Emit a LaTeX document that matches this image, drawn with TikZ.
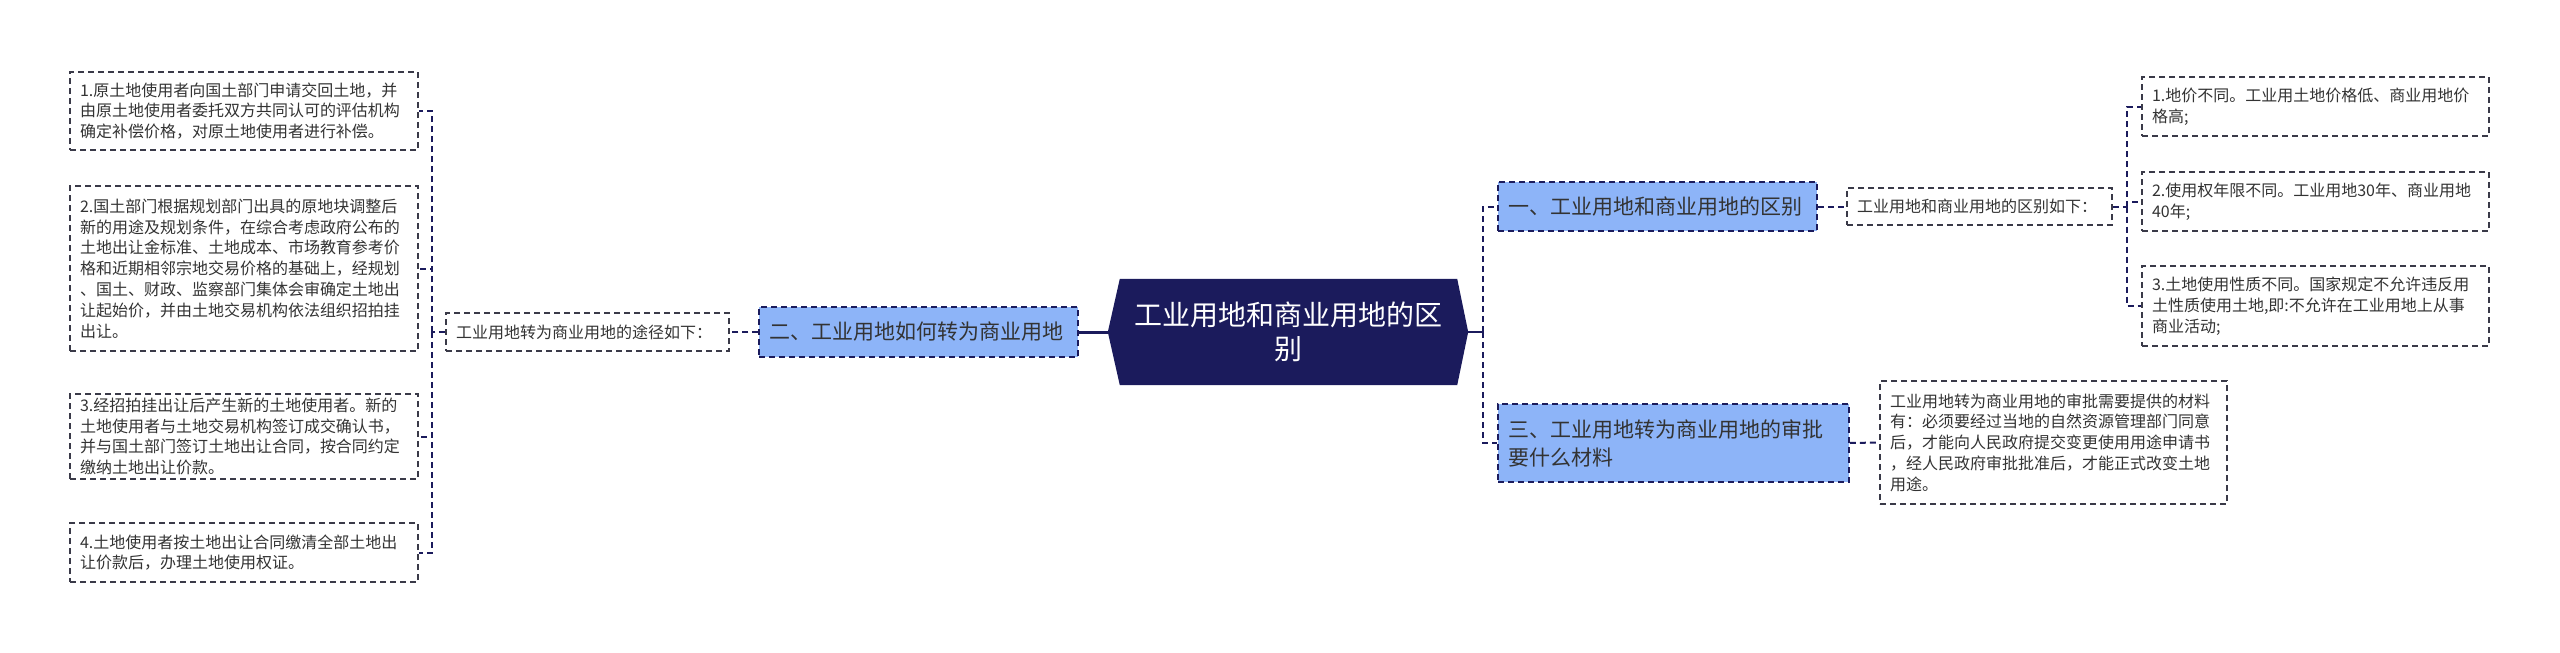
\documentclass[tikz,border=0pt]{standalone}
\usepackage{fontspec}
\setmainfont{Noto Sans CJK SC}
\usepackage{tikz}
\usetikzlibrary{calc,backgrounds}
\definecolor{navy}{HTML}{1B1B5C}
\definecolor{branchfill}{HTML}{8DB4F8}
\definecolor{ink}{HTML}{333333}
\definecolor{rim}{HTML}{3A3A48}

\begin{document}
\begin{tikzpicture}[x=1pt,y=-1pt,
  leaf/.style={draw=rim,dash pattern=on 6pt off 4pt,line width=1.5pt,fill=white,text=ink,
    font=\fontsize{16}{20.8}\selectfont,align=left,inner xsep=10pt,inner ysep=0pt},
  branch/.style={draw=navy,dash pattern=on 6pt off 4pt,line width=1.5pt,fill=branchfill,text=ink,
    font=\fontsize{21}{28}\selectfont,align=left,inner xsep=10pt,inner ysep=0pt},
  link/.style={navy,line width=2pt,dash pattern=on 6pt off 4pt}]
  \useasboundingbox (0,0) rectangle (2560,653);

  \node[text=white,font=\fontsize{28}{34}\selectfont,align=center,minimum width=337pt,minimum height=106pt,inner sep=0pt] (root) at (1288.5,332) {工业用地和商业用地的区\\别};
  \coordinate (rootw) at ($(root.west)+(-12,0)$);
  \coordinate (roote) at ($(root.east)+(11,0)$);
  \begin{scope}[on background layer]
    \fill[navy] (root.north west) -- (root.north east) -- (roote) -- (root.south east) -- (root.south west) -- (rootw) -- cycle;
  \end{scope}

  \node[branch,text width=299pt,minimum height=50pt] (b2) at (918.5,332) {二、工业用地如何转为商业用地};
  \node[leaf,text width=263pt,minimum height=38pt] (t) at (587.5,332) {工业用地转为商业用地的途径如下：};
  \node[leaf,text width=328pt,minimum height=78pt] (l1) at (244,111) {1.原土地使用者向国土部门申请交回土地，并\\由原土地使用者委托双方共同认可的评估机构\\确定补偿价格，对原土地使用者进行补偿。};
  \node[leaf,text width=328pt,minimum height=165pt] (l2) at (244,268.5) {2.国土部门根据规划部门出具的原地块调整后\\新的用途及规划条件，在综合考虑政府公布的\\土地出让金标准、土地成本、市场教育参考价\\格和近期相邻宗地交易价格的基础上，经规划\\、国土、财政、监察部门集体会审确定土地出\\让起始价，并由土地交易机构依法组织招拍挂\\出让。};
  \node[leaf,text width=328pt,minimum height=85pt] (l3) at (244,436.5) {3.经招拍挂出让后产生新的土地使用者。新的\\土地使用者与土地交易机构签订成交确认书，\\并与国土部门签订土地出让合同，按合同约定\\缴纳土地出让价款。};
  \node[leaf,text width=328pt,minimum height=59pt] (l4) at (244,552.5) {4.土地使用者按土地出让合同缴清全部土地出\\让价款后，办理土地使用权证。};

  \node[branch,text width=299pt,minimum height=49pt] (b1) at (1657.5,206.5) {一、工业用地和商业用地的区别};
  \node[leaf,text width=245pt,minimum height=37pt] (d) at (1979.5,206.5) {工业用地和商业用地的区别如下：};
  \node[leaf,text width=327pt,minimum height=59pt] (r1) at (2315.5,106.5) {1.地价不同。工业用土地价格低、商业用地价\\格高;};
  \node[leaf,text width=327pt,minimum height=59pt] (r2) at (2315.5,201.5) {2.使用权年限不同。工业用地30年、商业用地\\40年;};
  \node[leaf,text width=327pt,minimum height=80pt] (r3) at (2315.5,306) {3.土地使用性质不同。国家规定不允许违反用\\土性质使用土地,即:不允许在工业用地上从事\\商业活动;};
  \node[branch,text width=331pt,minimum height=78pt] (b3) at (1673.5,443) {三、工业用地转为商业用地的审批\\要什么材料};
  \node[leaf,text width=327pt,minimum height=123pt] (m) at (2053.5,442.5) {工业用地转为商业用地的审批需要提供的材料\\有：必须要经过当地的自然资源管理部门同意\\后，才能向人民政府提交变更使用用途申请书\\，经人民政府审批批准后，才能正式改变土地\\用途。};

  \coordinate (lbus) at (432,332);
  \coordinate (rbus) at (1483,332);
  \coordinate (dbus) at (2127,206.5);
  \draw[navy,line width=3pt] (b2.east) -- (rootw);
  \draw[link] (b2.west) -- (t.east);
  \draw[link] (t.west) -- (lbus);
  \draw[link] (lbus) |- (l1.east);
  \draw[link] (lbus) |- (l2.east);
  \draw[link] (lbus) |- (l3.east);
  \draw[link] (lbus) |- (l4.east);
  \draw[navy,line width=2pt] (roote) -- (rbus);
  \draw[link] (rbus) |- (b1.west);
  \draw[link] (rbus) |- (b3.west);
  \draw[link] (b1.east) -- (d.west);
  \draw[link] (d.east) -- (dbus);
  \draw[link] (dbus) |- (r1.west);
  \draw[link] (dbus) |- (r2.west);
  \draw[link] (dbus) |- (r3.west);
  \draw[link] (b3.east) -- (m.west);
\end{tikzpicture}
\end{document}
